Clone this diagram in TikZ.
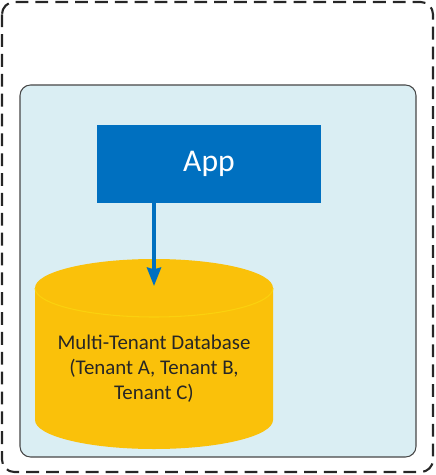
\documentclass[tikz,border=0pt]{standalone}
\usepackage{fontspec}
\setmainfont{Carlito}
\usetikzlibrary{arrows.meta}
\definecolor{appblue}{HTML}{0070C0}
\definecolor{paleblue}{HTML}{DAEEF3}
\definecolor{dbyellow}{HTML}{FAC10A}
\definecolor{inkgray}{HTML}{262626}
\tikzset{>=stealth}
\tikzset{
    tenantbox/.style={draw=inkgray, line width=1.2pt, dash pattern=on 7.3pt off 4pt, rounded corners=7pt},
    hostbox/.style={draw=inkgray!85, fill=paleblue, line width=0.6pt, rounded corners=6pt},
    appbox/.style={fill=appblue, text=white, minimum width=4.48cm, minimum height=1.56cm, font=\fontsize{18}{21}\selectfont},
    dbbody/.style={fill=dbyellow},
    dbedge/.style={draw=yellow!35!dbyellow, line width=0.6pt},
    dblabel/.style={text=inkgray, align=center, font=\fontsize{11.9}{14.3}\selectfont},
    flow/.style={->, draw=appblue, line width=2pt, >={Stealth[length=10.5pt, width=8pt, inset=1pt]}}
}

\begin{document}
\begin{tikzpicture}[x=0.02cm, y=-0.02cm]
    \useasboundingbox (0,0) rectangle (435,475);
    \draw[tenantbox] (2,2) rectangle (433,472);
    \draw[hostbox] (20,85) rectangle (416,457);
    \node[appbox] (app) at (209,164) {App};
    \fill[dbbody] (35,288) -- (35,420) arc[start angle=180, end angle=0, x radius=119, y radius=29]
        -- (273,288) arc[start angle=0, end angle=-180, x radius=119, y radius=29] -- cycle;
    \draw[dbedge] (35,288) arc[start angle=180, end angle=0, x radius=119, y radius=29];
    \coordinate (dbtop) at (154,286);
    \node[dblabel] (dbtext) at (154,369) {Multi-Tenant Database\\(Tenant A, Tenant B,\\Tenant C)};
    \draw[flow] (app.south -| dbtop) -- (dbtop);
\end{tikzpicture}
\end{document}
